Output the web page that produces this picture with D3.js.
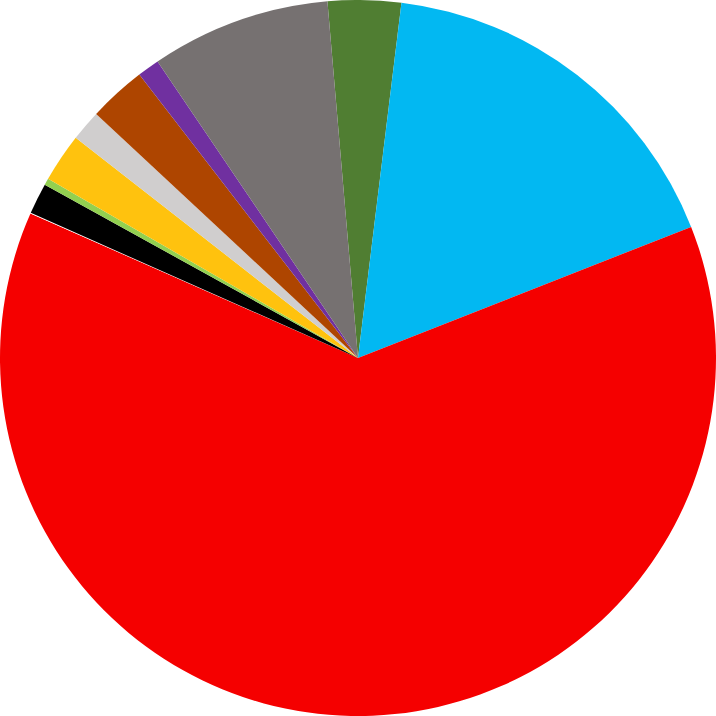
<!DOCTYPE html>
<html>
<head>
<meta charset="utf-8">
<script src="https://cdn.jsdelivr.net/npm/d3@7"></script>
<style>
  html, body { margin: 0; padding: 0; background: #fff; }
  svg { display: block; }
</style>
</head>
<body>
<svg width="716" height="716"></svg>
<script>
// slices, clockwise, starting with the dark green one just left of 12 o'clock
let categories = ["green", "blue", "red", "white", "black", "lightgreen", "yellow", "lightgray", "brown", "purple", "gray"];
let values = [3.3, 17.1, 62.6, 0.03, 1.4, 0.3, 2.2, 1.4, 2.6, 1.0, 8.1];
let colors = ["#507e32", "#02b8f2", "#f50000", "#ffffff", "#000000", "#92d050", "#ffc20e", "#d0cece", "#ae4500", "#7030a0", "#767171"];

let svg = d3.select("svg");
let width = 716, height = 716;
let radius = 358;

let data = categories.map(function(c, i) {
  return { key: c, value: values[i], color: colors[i] };
});

// chart is rotated a bit, first slice starts ~5 degrees before top
let start = -4.9 * Math.PI / 180;

let pie = d3.pie()
  .sort(null)
  .value(function(d) { return d.value; })
  .startAngle(start)
  .endAngle(start + 2 * Math.PI);

let arc = d3.arc()
  .innerRadius(0)
  .outerRadius(radius);

let plot = svg.append("g")
  .attr("transform", "translate(" + width / 2 + "," + height / 2 + ")");

plot.selectAll("path")
  .data(pie(data))
  .enter().append("path")
  .attr("d", arc)
  .attr("fill", function(d) { return d.data.color; });
</script>
</body>
</html>
